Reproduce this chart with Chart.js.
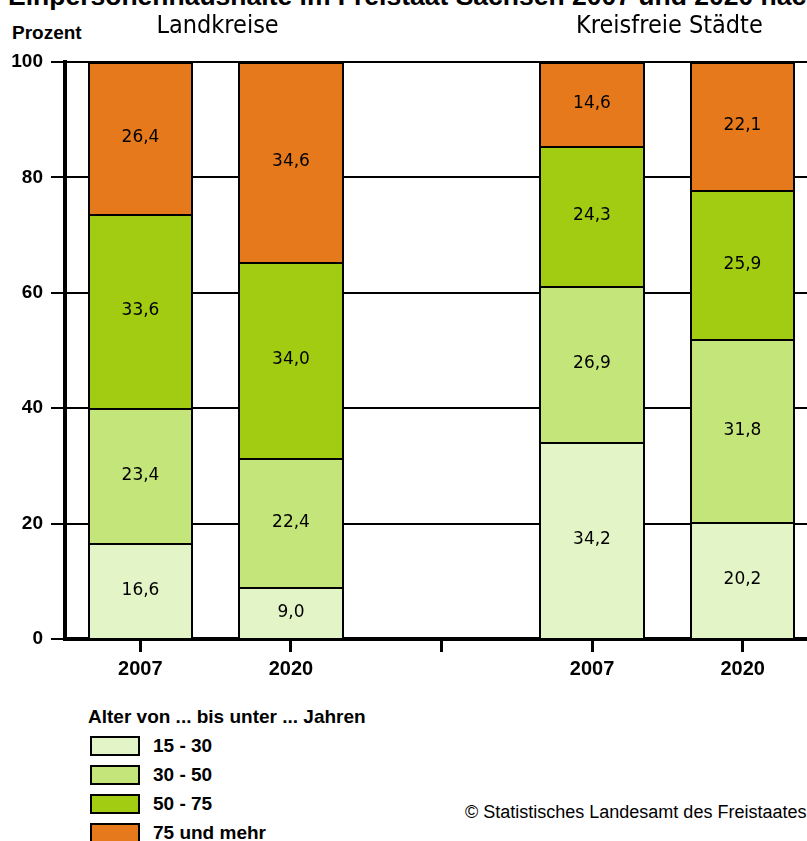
<!DOCTYPE html>
<html lang="de">
<head>
<meta charset="utf-8">
<title>Einpersonenhaushalte im Freistaat Sachsen</title>
<script src="https://cdn.jsdelivr.net/npm/chart.js@4/dist/chart.umd.min.js"></script>
<style>
  html, body { margin: 0; padding: 0; background: #fff; overflow: hidden; width: 807px; height: 841px; }
  #wrap { position: absolute; left: 0; top: 0; width: 840px; height: 700px; }
  .t { position: absolute; white-space: nowrap; color: #000; }
  #title { left: 8px; top: -17px; font: bold 26.5px/26.5px "Liberation Sans", Arial, sans-serif; }
  #unit { left: 12px; top: 22px; font: bold 19px "Liberation Sans", Arial, sans-serif; }
  #legendTitle { left: 88px; top: 706px; font: bold 19px "Liberation Sans", Arial, sans-serif; }
  .lbox { position: absolute; left: 90px; width: 46px; height: 16px; border: 2px solid #000; }
  .ltxt { position: absolute; left: 153px; font: bold 19px "Liberation Sans", Arial, sans-serif; }
  #source { left: 465px; top: 802px; font: 18px "Liberation Sans", Arial, sans-serif; }
</style>
</head>
<body>
<div id="title" class="t">Einpersonenhaushalte im Freistaat Sachsen 2007 und 2020 nach Altersgruppen</div>
<div id="unit" class="t">Prozent</div>
<div id="wrap"><canvas id="chart" width="840" height="700"></canvas></div>
<div id="legendTitle" class="t">Alter von ... bis unter ... Jahren</div>
<div id="legend"></div>
<div id="source" class="t">© Statistisches Landesamt des Freistaates Sachsen</div>

<script>
// Jahre je Gebietsgruppe; die leere Mitte trennt Landkreise und kreisfreie Städte
const categories = ['2007', '2020', '', '2007', '2020'];
const groupTitles = ['Landkreise', 'Kreisfreie Städte'];
const groupCategoryIndex = [[0, 1], [3, 4]];

// Anteile der Altersgruppen in Prozent
const ageGroups = ['15 - 30', '30 - 50', '50 - 75', '75 und mehr'];
const age15to30 = [16.6, 9.0, null, 34.2, 20.2];
const age30to50 = [23.4, 22.4, null, 26.9, 31.8];
const age50to75 = [33.6, 34.0, null, 24.3, 25.9];
const age75plus = [26.4, 34.6, null, 14.6, 22.1];

const yTickValues = [0, 20, 40, 60, 80, 100];
const groupColors = ['#E3F4C6', '#C3E57A', '#A2CC12', '#E5791B'];

const seriesValues = [age15to30, age30to50, age50to75, age75plus];

// Legende als HTML
const legend = document.getElementById('legend');
ageGroups.forEach((name, i) => {
  const box = document.createElement('div');
  box.className = 'lbox';
  box.style.top = (736 + i * 29) + 'px';
  box.style.background = groupColors[i];
  legend.appendChild(box);
  const txt = document.createElement('div');
  txt.className = 'ltxt';
  txt.style.top = (735 + i * 29) + 'px';
  txt.textContent = name;
  legend.appendChild(txt);
});

// Balkenkanten auf ganze Pixel setzen, damit die Trennlinien scharf bleiben
const snapBars = {
  id: 'snapBars',
  beforeDatasetsDraw(chart) {
    chart.data.datasets.forEach((ds, di) => {
      chart.getDatasetMeta(di).data.forEach(bar => {
        if (!isFinite(bar.y) || !isFinite(bar.base)) return;
        const left = Math.round(bar.x - bar.width / 2);
        const right = Math.round(bar.x + bar.width / 2);
        bar.x = (left + right) / 2;
        bar.width = right - left;
        bar.y = Math.round(bar.y);
        bar.base = Math.round(bar.base);
      });
    });
  }
};

// Werte in die Segmente schreiben (deutsches Dezimalkomma)
const segmentLabels = {
  id: 'segmentLabels',
  afterDatasetsDraw(chart) {
    const ctx = chart.ctx;
    ctx.save();
    ctx.font = '17px "DejaVu Sans", sans-serif';
    ctx.fillStyle = '#000';
    ctx.textAlign = 'center';
    ctx.textBaseline = 'middle';
    chart.data.datasets.forEach((ds, di) => {
      const meta = chart.getDatasetMeta(di);
      meta.data.forEach((bar, i) => {
        const v = ds.data[i];
        if (v === null || v === undefined) return;
        const yMid = (bar.y + bar.base) / 2;
        ctx.fillText(v.toFixed(1).replace('.', ','), bar.x, yMid);
      });
    });
    ctx.restore();
  }
};

// Gruppenüberschriften über den Balkenpaaren
const groupHeaders = {
  id: 'groupHeaders',
  afterDraw(chart) {
    const ctx = chart.ctx;
    const xs = chart.scales.x;
    ctx.save();
    ctx.font = '25px "Liberation Sans Narrow", "DejaVu Sans Condensed", sans-serif';
    ctx.fillStyle = '#000';
    ctx.textAlign = 'center';
    ctx.textBaseline = 'middle';
    groupTitles.forEach((title, g) => {
      const [a, b] = groupCategoryIndex[g];
      const cx = (xs.getPixelForValue(a) + xs.getPixelForValue(b)) / 2 + 2;
      ctx.fillText(title, cx, 26);
    });
    ctx.restore();
  }
};

new Chart(document.getElementById('chart'), {
  type: 'bar',
  data: {
    labels: categories,
    datasets: ageGroups.map((name, i) => ({
      label: name,
      data: seriesValues[i],
      backgroundColor: groupColors[i],
      borderColor: '#000',
      borderWidth: { top: 2, bottom: 0, left: 2, right: 2 },
      borderSkipped: false,
      barPercentage: 0.7,
      categoryPercentage: 1.0
    }))
  },
  options: {
    responsive: false,
    animation: false,
    devicePixelRatio: 1,
    layout: { padding: { top: 62, right: 22, left: 0, bottom: 0 } },
    plugins: {
      legend: { display: false },
      tooltip: { enabled: false },
      title: { display: false }
    },
    scales: {
      x: {
        stacked: true,
        afterFit(scale) { scale.height = 61; },
        grid: { offset: false, drawOnChartArea: false, drawTicks: true, tickLength: 13, lineWidth: 3, color: '#000' },
        border: { display: true, width: 4, color: '#000' },
        ticks: {
          color: '#000',
          padding: 5,
          maxRotation: 0,
          font: { family: '"Liberation Sans", Arial, sans-serif', size: 20, weight: 'bold' }
        }
      },
      y: {
        stacked: true,
        min: 0,
        max: 100,
        afterFit(scale) { scale.width = 65; },
        afterBuildTicks(scale) { scale.ticks = yTickValues.map(v => ({ value: v })); },
        grid: { color: '#000', lineWidth: 2, drawTicks: true, tickLength: 14 },
        border: { display: true, width: 4, color: '#000' },
        ticks: {
          color: '#000',
          padding: 8,
          font: { family: '"Liberation Sans", Arial, sans-serif', size: 19, weight: 'bold' }
        }
      }
    }
  },
  plugins: [snapBars, segmentLabels, groupHeaders]
});
</script>
</body>
</html>
